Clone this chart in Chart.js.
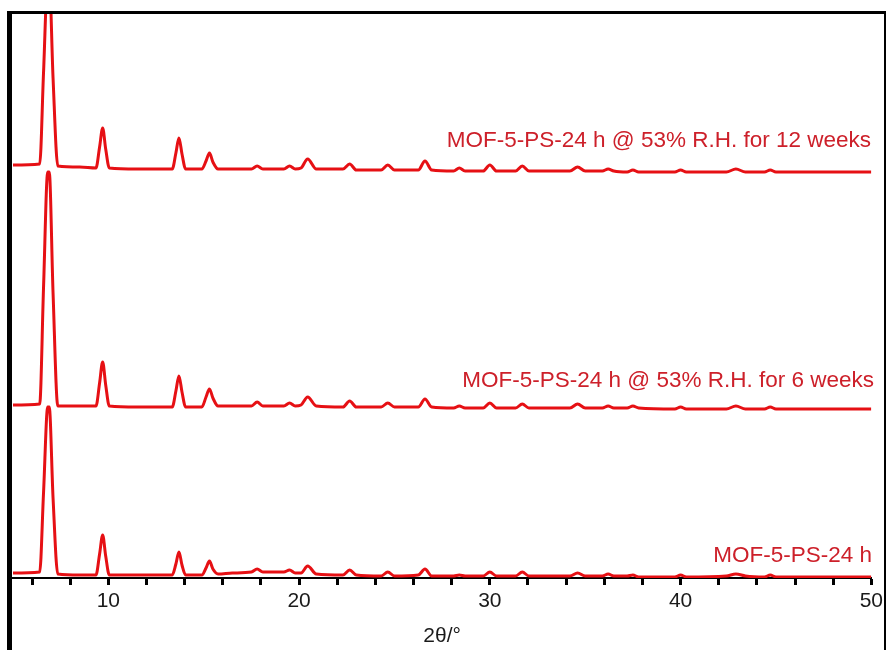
<!DOCTYPE html>
<html>
<head>
<meta charset="utf-8">
<script src="https://cdn.jsdelivr.net/npm/chart.js@4/dist/chart.umd.min.js"></script>
<style>
  html, body { margin: 0; padding: 0; background: #fff; }
  #wrap { width: 887px; height: 650px; }
</style>
</head>
<body>
<div id="wrap"><canvas id="xrd" width="887" height="650"></canvas></div>
<script>
// 2-theta positions shared by all three patterns
const twoTheta = [
  5.0, 6.4, 6.6, 6.82, 6.9, 7.1, 7.35, 8.5, 9.35, 9.54,
  9.7, 9.86, 10.05, 11.5, 13.35, 13.54, 13.7, 13.86, 14.05, 14.9,
  15.12, 15.3, 15.48, 15.75, 16.5, 17.5, 17.8, 18.1, 19.2, 19.5,
  19.8, 20.1, 20.45, 20.9, 22.3, 22.65, 23.0, 24.3, 24.65, 25.0,
  26.25, 26.6, 26.95, 28.1, 28.4, 28.7, 29.65, 30.0, 30.35, 31.35,
  31.7, 32.05, 34.2, 34.6, 35.0, 35.9, 36.2, 36.5, 37.2, 37.5,
  37.8, 39.7, 40.0, 40.3, 42.4, 42.9, 43.4, 44.4, 44.7, 45.0,
  47.5, 50.0
];

// intensities (a.u., already stacked)
const ps24h = [
  5, 6, 85, 171, 171, 80, 4, 3, 3, 24,
  43, 22, 3, 3, 3, 14, 26, 13, 3, 3,
  10, 17, 9, 4, 5, 6, 9, 6, 6, 8,
  5, 5, 12, 4, 3, 8, 3, 2, 6, 2,
  3, 9, 2, 2, 3, 2, 2, 6, 2, 2,
  6, 2, 2, 5, 2, 2, 4, 2, 2, 3,
  1, 1, 3, 1, 2, 4, 2, 1, 3, 1,
  1, 1
];
const ps6weeks = [
  173, 174, 290, 406, 406, 285, 172, 172, 172, 195,
  216, 193, 172, 171, 171, 187, 202, 186, 171, 171,
  181, 189, 180, 172, 172, 172, 176, 172, 172, 175,
  172, 173, 181, 172, 171, 177, 171, 171, 175, 171,
  171, 179, 171, 170, 172, 170, 170, 175, 170, 170,
  174, 170, 170, 174, 170, 170, 172, 170, 170, 172,
  170, 169, 171, 169, 169, 172, 169, 169, 171, 169,
  169, 169
];
const ps12weeks = [
  413, 414, 505, 600, 600, 500, 412, 411, 410, 431,
  450, 429, 410, 409, 409, 425, 440, 424, 409, 409,
  417, 425, 416, 409, 409, 409, 412, 409, 409, 412,
  409, 410, 419, 409, 409, 414, 408, 408, 413, 408,
  408, 417, 408, 407, 410, 407, 407, 413, 407, 407,
  412, 407, 407, 411, 407, 407, 409, 407, 406, 408,
  406, 406, 408, 406, 406, 409, 406, 406, 408, 406,
  406, 406
];

const seriesLabels = [
  "MOF-5-PS-24 h",
  "MOF-5-PS-24 h @ 53% R.H. for 6 weeks",
  "MOF-5-PS-24 h @ 53% R.H. for 12 weeks"
];
const xTicks = [6, 8, 10, 12, 14, 16, 18, 20, 22, 24, 26, 28, 30, 32, 34, 36, 38, 40, 42, 44, 46, 48, 50];

const RED = "rgb(230, 16, 20)";
const TEXT_RED = "rgb(205, 32, 42)";
const FONT = "'Liberation Sans', Arial, sans-serif";

const toPoints = (ys) => twoTheta.map((x, i) => ({ x, y: ys[i] }));

const frameAndLabels = {
  id: "frameAndLabels",
  afterDraw: (chart) => {
    const { ctx } = chart;
    ctx.save();
    // labels next to each pattern
    ctx.font = `22.5px ${FONT}`;
    ctx.fillStyle = TEXT_RED;
    ctx.textAlign = "right";
    ctx.textBaseline = "alphabetic";
    ctx.fillText(seriesLabels[2], 871, 147);
    ctx.fillText(seriesLabels[1], 874, 387);
    ctx.fillText(seriesLabels[0], 872, 562);
    // outer frame
    ctx.fillStyle = "#000";
    ctx.fillRect(7, 11, 5, 639);
    ctx.fillRect(7, 11, 879, 3);
    ctx.fillRect(884, 11, 2, 639);
    ctx.restore();
  },
};

const datasets = [ps24h, ps6weeks, ps12weeks].map((ys, i) => ({
  label: seriesLabels[i],
  data: toPoints(ys),
  borderColor: RED,
  borderWidth: 3,
  pointRadius: 0,
  cubicInterpolationMode: "monotone",
  fill: false,
}));

new Chart(document.getElementById("xrd"), {
  type: "line",
  data: { datasets },
  options: {
    responsive: false,
    animation: false,
    layout: { padding: { left: 13, right: 14, top: 14, bottom: 0 } },
    plugins: {
      legend: { display: false },
      tooltip: { enabled: false },
    },
    scales: {
      x: {
        type: "linear",
        min: 5,
        max: 50,
        afterBuildTicks: (scale) => {
          scale.ticks = xTicks.map((value) => ({ value }));
        },
        afterFit: (scale) => {
          scale.height = 72;
        },
        ticks: {
          autoSkip: false,
          maxRotation: 0,
          padding: 4,
          color: "#1a1a1a",
          font: { family: FONT, size: 21 },
          callback: (value) => (value % 10 === 0 ? String(value) : ""),
        },
        grid: {
          drawOnChartArea: false,
          drawTicks: true,
          tickLength: 7,
          tickWidth: 3,
          color: "#000",
        },
        border: { display: true, color: "#000", width: 2 },
        title: {
          display: true,
          text: "2θ/°",
          color: "#1a1a1a",
          font: { family: FONT, size: 21 },
          padding: { top: 0, bottom: 1 },
        },
      },
      y: {
        display: false,
        min: 0,
        max: 564,
      },
    },
  },
  plugins: [frameAndLabels],
});
</script>
</body>
</html>
